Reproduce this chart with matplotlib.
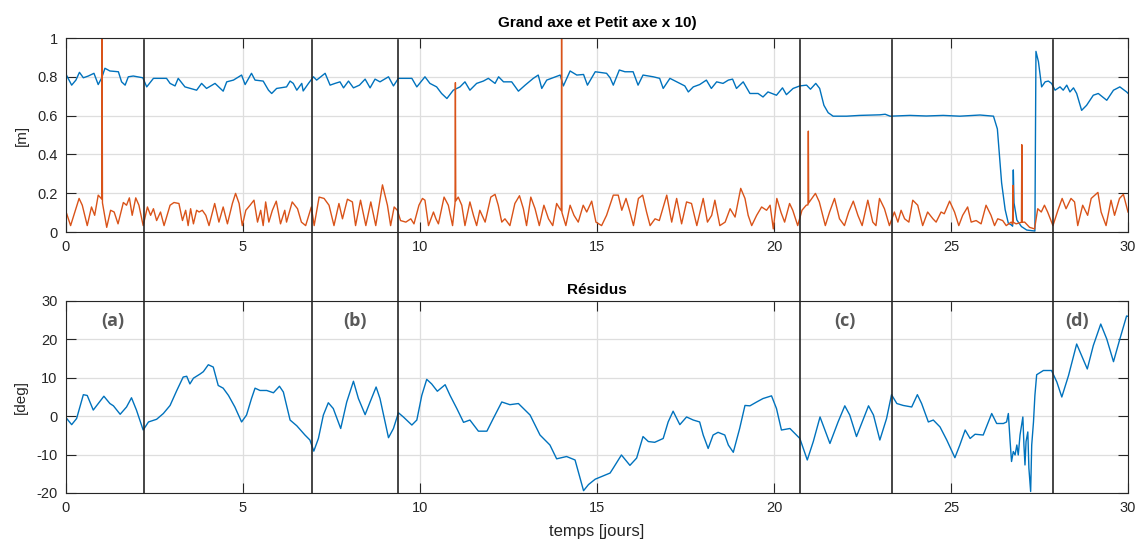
import matplotlib
matplotlib.use("Agg")
import matplotlib.pyplot as plt
from matplotlib.lines import Line2D
from matplotlib.transforms import blended_transform_factory

# ---------------- data ----------------
# Grand axe [m] (blue)
ga_t = [0.02, 0.16, 0.28, 0.38, 0.49, 0.63, 0.79, 0.91, 1.01, 1.10, 1.24, 1.48, 1.57, 1.67, 1.76, 1.90,
        2.17, 2.28, 2.47, 2.84, 2.94, 3.08, 3.17, 3.36, 3.69, 3.83, 3.97, 4.21, 4.44, 4.54, 4.73, 4.96,
        5.06, 5.24, 5.34, 5.57, 5.72, 5.81, 5.95, 6.23, 6.33, 6.42, 6.52, 6.66, 6.70, 6.85, 6.99, 7.08,
        7.32, 7.46, 7.60, 7.74, 7.84, 7.98, 8.12, 8.29, 8.45, 8.59, 8.73, 8.87, 9.11, 9.25, 9.39, 9.77,
        9.91, 10.14, 10.28, 10.47, 10.61, 10.76, 10.94, 11.13, 11.27, 11.41, 11.60, 11.79, 11.93, 12.12,
        12.22, 12.36, 12.59, 12.78, 12.97, 13.20, 13.34, 13.44, 13.58, 13.96, 14.05, 14.24, 14.43, 14.62,
        14.73, 14.95, 15.27, 15.37, 15.46, 15.63, 15.79, 16.02, 16.16, 16.30, 16.59, 16.77, 16.87, 17.06,
        17.34, 17.48, 17.58, 17.72, 17.90, 18.09, 18.23, 18.38, 18.56, 18.71, 18.83, 18.94, 19.13, 19.32,
        19.55, 19.69, 19.83, 20.07, 20.24, 20.35, 20.54, 20.73, 20.92, 21.03, 21.18, 21.29, 21.41, 21.53,
        21.67, 22.05, 22.42, 22.99, 23.14, 23.28, 23.84, 24.30, 24.78, 25.25, 25.82, 26.20, 26.31, 26.43,
        26.53, 26.62, 26.71, 26.74, 26.76, 26.78, 26.86, 26.99, 27.14, 27.37, 27.40, 27.47, 27.56, 27.66,
        27.75, 27.84, 27.94, 28.08, 28.17, 28.27, 28.36, 28.46, 28.55, 28.69, 28.83, 29.02, 29.16, 29.40,
        29.59, 29.77, 29.96, 30.0]
ga_v = [0.806, 0.757, 0.783, 0.823, 0.795, 0.804, 0.818, 0.760, 0.795, 0.844, 0.830, 0.826, 0.774, 0.757,
        0.800, 0.804, 0.795, 0.748, 0.792, 0.792, 0.766, 0.753, 0.792, 0.748, 0.731, 0.766, 0.740, 0.766,
        0.726, 0.774, 0.783, 0.809, 0.760, 0.818, 0.783, 0.778, 0.731, 0.714, 0.740, 0.748, 0.778, 0.766,
        0.731, 0.766, 0.727, 0.766, 0.800, 0.783, 0.818, 0.757, 0.766, 0.774, 0.743, 0.778, 0.743, 0.757,
        0.788, 0.743, 0.788, 0.774, 0.800, 0.753, 0.792, 0.792, 0.748, 0.800, 0.766, 0.748, 0.714, 0.688,
        0.731, 0.748, 0.774, 0.731, 0.766, 0.778, 0.792, 0.766, 0.800, 0.774, 0.774, 0.726, 0.757, 0.792,
        0.809, 0.740, 0.783, 0.809, 0.753, 0.830, 0.809, 0.812, 0.757, 0.826, 0.818, 0.795, 0.757, 0.835,
        0.826, 0.826, 0.757, 0.809, 0.800, 0.792, 0.740, 0.792, 0.766, 0.753, 0.722, 0.748, 0.760, 0.783,
        0.740, 0.774, 0.766, 0.783, 0.788, 0.740, 0.774, 0.714, 0.714, 0.696, 0.722, 0.705, 0.743, 0.708,
        0.740, 0.753, 0.757, 0.736, 0.766, 0.740, 0.653, 0.615, 0.597, 0.597, 0.601, 0.604, 0.607, 0.597,
        0.601, 0.598, 0.601, 0.597, 0.603, 0.597, 0.531, 0.253, 0.115, 0.045, 0.036, 0.030, 0.320, 0.150,
        0.062, 0.028, 0.010, 0.005, 0.931, 0.878, 0.748, 0.774, 0.778, 0.766, 0.731, 0.748, 0.731, 0.757,
        0.722, 0.743, 0.714, 0.627, 0.653, 0.705, 0.714, 0.679, 0.731, 0.748, 0.722, 0.715]

# Petit axe x 10 [m] (orange)
pa_t = [0.02, 0.13, 0.37, 0.46, 0.60, 0.72, 0.81, 0.91, 1.01, 1.02, 1.03, 1.15, 1.26, 1.36, 1.47, 1.62,
        1.71, 1.79, 1.87, 1.97, 2.06, 2.18, 2.30, 2.39, 2.47, 2.56, 2.67, 2.77, 2.94, 3.05, 3.19, 3.29,
        3.38, 3.45, 3.52, 3.60, 3.69, 3.76, 3.85, 3.95, 4.04, 4.20, 4.32, 4.44, 4.56, 4.70, 4.79, 4.89,
        4.98, 5.08, 5.20, 5.31, 5.41, 5.50, 5.57, 5.64, 5.73, 5.83, 5.94, 6.06, 6.18, 6.23, 6.39, 6.54,
        6.65, 6.77, 6.93, 7.01, 7.15, 7.29, 7.43, 7.57, 7.71, 7.81, 7.95, 8.09, 8.18, 8.32, 8.47, 8.61,
        8.75, 8.94, 9.08, 9.17, 9.27, 9.36, 9.45, 9.60, 9.74, 9.83, 9.97, 10.07, 10.14, 10.24, 10.38,
        10.45, 10.52, 10.68, 10.80, 10.92, 10.99, 11.00, 11.01, 11.08, 11.18, 11.27, 11.41, 11.51, 11.60,
        11.69, 11.84, 12.00, 12.12, 12.21, 12.31, 12.40, 12.54, 12.68, 12.81, 12.92, 13.01, 13.13, 13.25,
        13.37, 13.50, 13.63, 13.75, 13.86, 13.95, 13.99, 14.00, 14.01, 14.12, 14.24, 14.35, 14.47, 14.61,
        14.71, 14.85, 14.97, 15.13, 15.27, 15.46, 15.60, 15.70, 15.82, 15.93, 16.03, 16.17, 16.29, 16.40,
        16.50, 16.64, 16.76, 16.97, 17.11, 17.25, 17.39, 17.53, 17.67, 17.82, 18.00, 18.12, 18.24, 18.33,
        18.47, 18.62, 18.76, 18.90, 19.06, 19.18, 19.27, 19.37, 19.51, 19.65, 19.79, 19.89, 19.98, 20.08,
        20.20, 20.30, 20.44, 20.53, 20.67, 20.79, 20.91, 20.96, 20.97, 20.98, 21.17, 21.28, 21.45, 21.57,
        21.71, 21.85, 21.99, 22.11, 22.24, 22.37, 22.49, 22.65, 22.79, 22.88, 22.98, 23.12, 23.26, 23.40,
        23.50, 23.59, 23.69, 23.81, 23.92, 24.06, 24.20, 24.34, 24.49, 24.58, 24.72, 24.81, 24.96, 25.10,
        25.22, 25.33, 25.47, 25.57, 25.71, 25.85, 25.99, 26.13, 26.23, 26.32, 26.46, 26.56, 26.70, 26.74,
        26.75, 26.76, 26.84, 26.99, 27.00, 27.01, 27.08, 27.22, 27.36, 27.45, 27.55, 27.64, 27.73, 27.88,
        28.02, 28.14, 28.25, 28.39, 28.49, 28.58, 28.72, 28.86, 28.96, 29.15, 29.24, 29.38, 29.52, 29.62,
        29.76, 29.87, 30.0]
pa_v = [0.094, 0.033, 0.173, 0.138, 0.033, 0.129, 0.086, 0.190, 0.170, 1.050, 0.150, 0.024, 0.112, 0.103,
        0.042, 0.152, 0.138, 0.176, 0.086, 0.176, 0.138, 0.033, 0.129, 0.086, 0.120, 0.059, 0.103, 0.033,
        0.138, 0.152, 0.147, 0.059, 0.112, 0.033, 0.120, 0.042, 0.112, 0.103, 0.112, 0.086, 0.033, 0.147,
        0.051, 0.129, 0.042, 0.147, 0.199, 0.147, 0.033, 0.112, 0.138, 0.164, 0.051, 0.112, 0.033, 0.155,
        0.051, 0.112, 0.159, 0.042, 0.112, 0.051, 0.155, 0.120, 0.051, 0.033, 0.129, 0.033, 0.180, 0.173,
        0.138, 0.033, 0.147, 0.068, 0.169, 0.155, 0.033, 0.164, 0.033, 0.155, 0.033, 0.243, 0.138, 0.033,
        0.129, 0.112, 0.059, 0.051, 0.068, 0.042, 0.138, 0.173, 0.164, 0.033, 0.103, 0.068, 0.042, 0.180,
        0.138, 0.033, 0.150, 0.770, 0.160, 0.180, 0.138, 0.033, 0.155, 0.086, 0.033, 0.112, 0.051, 0.180,
        0.194, 0.138, 0.051, 0.068, 0.033, 0.147, 0.187, 0.120, 0.033, 0.180, 0.120, 0.033, 0.138, 0.068,
        0.033, 0.147, 0.120, 0.110, 1.050, 0.100, 0.033, 0.138, 0.086, 0.051, 0.138, 0.103, 0.159, 0.051,
        0.033, 0.086, 0.190, 0.190, 0.112, 0.173, 0.103, 0.033, 0.173, 0.190, 0.103, 0.033, 0.068, 0.059,
        0.190, 0.051, 0.173, 0.042, 0.155, 0.147, 0.033, 0.173, 0.051, 0.086, 0.164, 0.033, 0.051, 0.120,
        0.077, 0.225, 0.173, 0.086, 0.033, 0.086, 0.129, 0.112, 0.138, 0.016, 0.173, 0.100, 0.051, 0.147,
        0.112, 0.033, 0.112, 0.138, 0.140, 0.520, 0.150, 0.199, 0.155, 0.033, 0.103, 0.173, 0.068, 0.033,
        0.103, 0.159, 0.086, 0.033, 0.164, 0.051, 0.033, 0.173, 0.120, 0.033, 0.103, 0.051, 0.112, 0.068,
        0.051, 0.164, 0.138, 0.033, 0.103, 0.068, 0.051, 0.103, 0.094, 0.159, 0.103, 0.033, 0.086, 0.129,
        0.051, 0.059, 0.042, 0.138, 0.086, 0.033, 0.068, 0.059, 0.033, 0.051, 0.040, 0.240, 0.050, 0.042,
        0.050, 0.450, 0.050, 0.051, 0.024, 0.016, 0.120, 0.103, 0.138, 0.103, 0.033, 0.112, 0.173, 0.120,
        0.173, 0.155, 0.033, 0.138, 0.086, 0.173, 0.204, 0.103, 0.033, 0.164, 0.086, 0.173, 0.194, 0.103]

# Résidus [deg]
res_t = [0.02, 0.16, 0.30, 0.49, 0.60, 0.77, 0.91, 1.07, 1.24, 1.34, 1.53, 1.71, 1.85, 1.99, 2.18, 2.33,
         2.56, 2.75, 2.94, 3.13, 3.31, 3.41, 3.50, 3.60, 3.79, 3.88, 4.02, 4.16, 4.30, 4.44, 4.59, 4.77,
         4.96, 5.10, 5.24, 5.34, 5.48, 5.67, 5.86, 6.03, 6.14, 6.33, 6.52, 6.75, 6.89, 7.00, 7.13, 7.27,
         7.41, 7.55, 7.76, 7.93, 8.12, 8.26, 8.45, 8.59, 8.76, 8.87, 9.11, 9.25, 9.39, 9.53, 9.77, 9.91,
         10.05, 10.19, 10.33, 10.49, 10.71, 10.85, 11.04, 11.23, 11.41, 11.65, 11.89, 12.07, 12.31, 12.54,
         12.78, 13.11, 13.39, 13.67, 13.86, 14.14, 14.38, 14.62, 14.76, 14.95, 15.37, 15.46, 15.69, 15.93,
         16.12, 16.30, 16.45, 16.63, 16.87, 17.01, 17.15, 17.34, 17.53, 17.72, 17.90, 18.00, 18.14, 18.28,
         18.42, 18.61, 18.71, 18.85, 19.03, 19.18, 19.32, 19.51, 19.69, 19.93, 20.07, 20.21, 20.45, 20.73,
         20.94, 21.11, 21.30, 21.58, 21.81, 22.00, 22.14, 22.33, 22.67, 22.81, 22.99, 23.18, 23.32, 23.47,
         23.65, 23.89, 24.05, 24.17, 24.36, 24.50, 24.69, 24.88, 25.11, 25.25, 25.40, 25.54, 25.68, 25.91,
         26.15, 26.29, 26.48, 26.57, 26.62, 26.67, 26.71, 26.76, 26.81, 26.86, 26.90, 26.95, 27.03, 27.06,
         27.09, 27.12, 27.17, 27.20, 27.25, 27.28, 27.33, 27.37, 27.42, 27.61, 27.84, 27.99, 28.13, 28.32,
         28.55, 28.69, 28.85, 29.02, 29.23, 29.40, 29.59, 29.77, 29.96, 30.0]
res_v = [-0.6, -2.2, -0.6, 5.6, 5.4, 1.6, 3.3, 5.2, 3.3, 2.7, 0.5, 2.4, 4.8, 1.6, -3.6, -1.5,
         -0.8, 0.7, 2.8, 6.7, 10.2, 10.4, 8.4, 9.9, 11.0, 11.6, 13.4, 12.8, 8.0, 7.3, 5.4, 2.4,
         -1.5, 0.3, 4.6, 7.3, 6.7, 6.7, 6.1, 7.8, 6.3, -1.0, -2.5, -4.9, -6.2, -9.1, -5.8, 0.3,
         3.5, 2.0, -3.2, 3.7, 9.1, 4.6, 0.4, 3.7, 7.6, 4.6, -5.6, -3.2, 0.9, -0.2, -2.3, -1.0,
         5.4, 9.6, 8.4, 6.5, 8.2, 5.4, 2.0, -1.6, -1.0, -3.9, -3.9, -0.6, 3.7, 3.0,
         3.3, 0.3, -4.9, -7.5, -11.1, -10.5, -11.4, -19.4, -17.8, -16.4, -14.8, -13.5, -10.1, -12.8,
         -10.9, -5.3, -6.6, -6.8, -5.8, -1.5, 1.3, -2.2, -0.2, -1.0, -1.5, -4.9, -8.4, -4.9,
         -4.2, -4.9, -7.5, -9.4, -3.2, 2.8, 2.7, 3.7, 4.6, 5.3, 2.0, -3.6, -3.2, -5.8,
         -11.4, -6.6, -0.2, -7.1, -1.5, 2.7, 0.3, -5.3, 2.7, 0.3, -6.2, -0.6, 5.6, 3.3,
         2.8, 2.4, 5.6, 3.3, -1.5, -1.0, -2.8, -6.2, -10.8, -7.5, -3.6, -5.8, -4.7, -4.9,
         0.7, -1.9, -1.9, -1.5, 0.7, -6.6, -11.8, -9.2, -10.1, -7.5, -10.1, -4.9, -0.2, -7.5,
         -12.7, -6.6, -4.1, -13.5, -19.6, -7.5, -1.5, 5.4, 10.8, 11.9, 11.9, 8.9, 5.0, 10.6,
         18.8, 15.8, 12.3, 18.4, 24.0, 20.1, 14.2, 20.1, 26.1, 26.0]

events = [2.2, 6.95, 9.38, 20.73, 23.33, 27.88]
phase_labels = ["(a)", "(b)", "(c)", "(d)"]
phase_pos = [1.33, 8.16, 22.0, 28.56]

x_ticks = [0, 5, 10, 15, 20, 25, 30]
y1_ticks = [0, 0.2, 0.4, 0.6, 0.8, 1.0]
y1_labels = ["0", "0.2", "0.4", "0.6", "0.8", "1"]
y2_ticks = [-20, -10, 0, 10, 20, 30]

# ---------------- figure ----------------
plt.rcParams["font.family"] = ["Liberation Sans", "DejaVu Sans"]
plt.rcParams["axes.unicode_minus"] = False
W, H = 1137, 544
fig = plt.figure(figsize=(W / 100, H / 100), dpi=100)
ax1 = fig.add_axes([66 / W, 1 - 232 / H, 1062 / W, 194 / H])
ax2 = fig.add_axes([66 / W, 1 - 493 / H, 1062 / W, 192 / H])

BLUE = "#0072BD"
ORANGE = "#D95319"
DARK = "#262626"

for ax in (ax1, ax2):
    ax.set_xlim(0, 30)
    ax.set_xticks(x_ticks)
    ax.grid(True, color="#dedede", linewidth=0.9)
    ax.set_axisbelow(True)
    ax.tick_params(direction="in", top=True, right=True, length=7, width=0.8,
                   labelsize=10.5, colors=DARK, pad=6)
    for s in ax.spines.values():
        s.set_color(DARK)
        s.set_linewidth(0.8)

ax1.plot(ga_t, ga_v, color=BLUE, linewidth=1.0)
ax1.plot(pa_t, pa_v, color=ORANGE, linewidth=1.0)
ax1.set_ylim(0, 1)
ax1.set_yticks(y1_ticks)
ax1.set_yticklabels(y1_labels)
ax1.set_ylabel("[m]", fontsize=11, color=DARK, labelpad=6)
ax1.set_title("Grand axe et Petit axe x 10)", fontsize=11, fontweight="bold", pad=8)

ax2.plot(res_t, res_v, color=BLUE, linewidth=1.0)
ax2.set_ylim(-20, 30)
ax2.set_yticks(y2_ticks)
ax2.set_ylabel("[deg]", fontsize=11, color=DARK, labelpad=6)
ax2.set_title("Résidus", fontsize=11, fontweight="bold", pad=5)
ax2.set_xlabel("temps [jours]", fontsize=12, color=DARK, labelpad=6)

for lab, xp in zip(phase_labels, phase_pos):
    ax2.text(xp, 24.7, lab, ha="center", va="center", fontsize=13, fontweight="bold",
             color="#595959", family=["Open Sans", "DejaVu Sans"])

tr = blended_transform_factory(ax1.transData, fig.transFigure)
y_lo = 1 - 493 / H
y_hi = 1 - 40 / H
for xv in events:
    fig.add_artist(Line2D([xv, xv], [y_lo, y_hi], transform=tr, color=DARK, linewidth=1.2))

fig.savefig("out.png", dpi=100)
